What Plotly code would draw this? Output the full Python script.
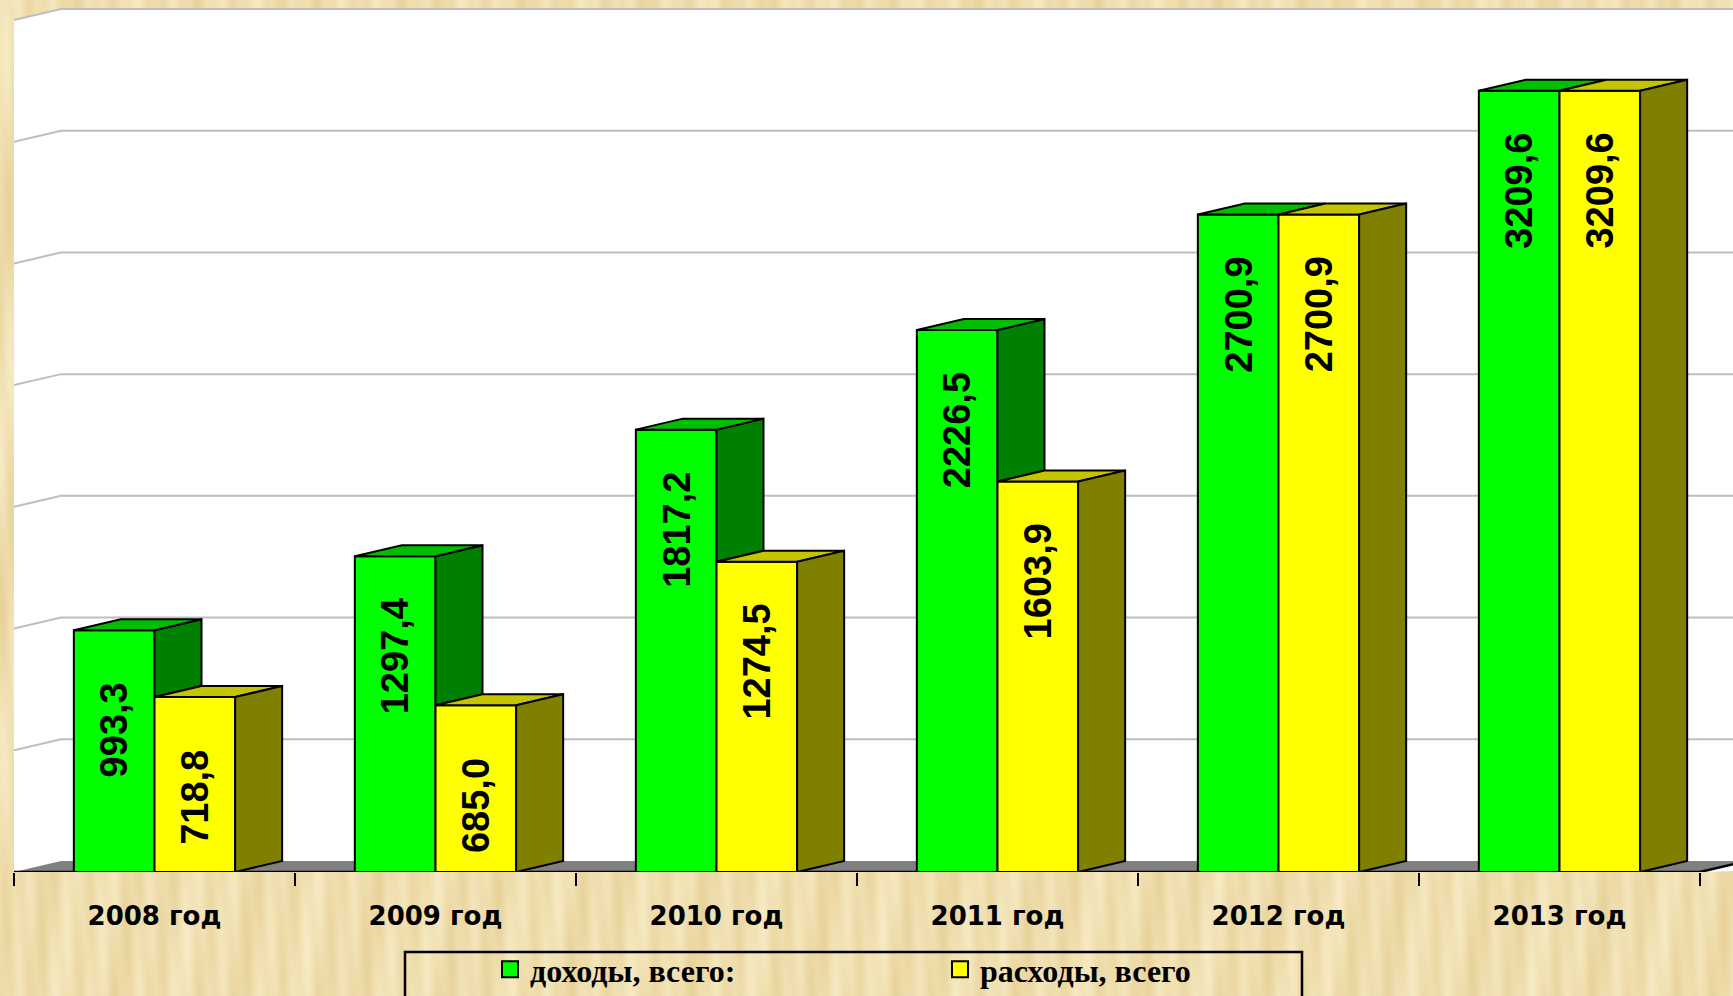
import math
import zlib
import struct
import base64
import plotly.graph_objects as go

# ---------------- data ----------------
categories = ["2008 год", "2009 год", "2010 год", "2011 год", "2012 год", "2013 год"]
income = [993.3, 1297.4, 1817.2, 2226.5, 2700.9, 3209.6]
expenses = [718.8, 685.0, 1274.5, 1603.9, 2700.9, 3209.6]
series_names = ["доходы, всего:", "расходы, всего"]
grid_values = [500, 1000, 1500, 2000, 2500, 3000, 3500]

# ---------------- geometry / style constants ----------------
FIG_W, FIG_H = 1733, 996
M_L, M_B = 14, 124
PX_PER_CAT = 281.0
PX_PER_VAL = 852.0 / 3500.0
DEPTH_PX_X, DEPTH_PX_Y = 47.0, 11.0
BAR_W = 0.287
LABEL_OFF_PX = 100.0

plot_w = FIG_W - M_L
plot_h = FIG_H - M_B
x_min = -0.5
x_max = x_min + plot_w / PX_PER_CAT
y_max = plot_h / PX_PER_VAL
DX = DEPTH_PX_X / PX_PER_CAT
DY = DEPTH_PX_Y / PX_PER_VAL
n = len(categories)
idx = list(range(n))
x_left, x_right = -0.5, n - 0.5

GREEN, GREEN_TOP, GREEN_SIDE = "#00FF00", "#00BE00", "#008000"
YELLOW, YELLOW_TOP, YELLOW_SIDE = "#FFFF00", "#C4C400", "#808000"


def fmt(v):
    return ("%.1f" % v).replace(".", ",")


# ---------------- background texture (paper) ----------------
def make_png(w, h, fn):
    raw = bytearray()
    for yy in range(h):
        raw.append(0)
        for xx in range(w):
            raw.extend(fn(xx, yy))

    def chunk(tag, data):
        c = struct.pack(">I", len(data)) + tag + data
        return c + struct.pack(">I", zlib.crc32(tag + data) & 0xFFFFFFFF)

    png = (b"\x89PNG\r\n\x1a\n"
           + chunk(b"IHDR", struct.pack(">IIBBBBB", w, h, 8, 2, 0, 0, 0))
           + chunk(b"IDAT", zlib.compress(bytes(raw), 9))
           + chunk(b"IEND", b""))
    return "data:image/png;base64," + base64.b64encode(png).decode()


LIGHT = (248, 236, 198)
DARK = (230, 207, 148)


def paper_px(xx, yy):
    X, Y = xx * 3.0, yy * 3.0
    t = (0.55 + 0.2 * math.sin(2 * math.pi * (X + 0.12 * Y) / 41.0)
         + 0.13 * math.sin(2 * math.pi * (X - 0.07 * Y) / 17.0 + 1.3)
         + 0.1 * math.sin(2 * math.pi * (X + 0.3 * Y) / 113.0 + 0.4))
    t = max(0.0, min(1.0, t))
    return bytes(int(DARK[k] + (LIGHT[k] - DARK[k]) * t) for k in range(3))


texture = make_png(578, 332, paper_px)

# ---------------- traces ----------------
fig = go.Figure()

fig.add_trace(go.Bar(x=idx, y=income, width=BAR_W, offset=-BAR_W, name=series_names[0],
                     marker=dict(color=GREEN, line=dict(color="black", width=2)),
                     showlegend=False, hoverinfo="skip"))
fig.add_trace(go.Bar(x=idx, y=expenses, width=BAR_W, offset=0.0, name=series_names[1],
                     marker=dict(color=YELLOW, line=dict(color="black", width=2)),
                     showlegend=False, hoverinfo="skip"))


def poly_trace(polys, fill):
    xs, ys = [], []
    for p in polys:
        for (px, py) in p:
            xs.append(px)
            ys.append(py)
        xs.append(p[0][0])
        ys.append(p[0][1])
        xs.append(None)
        ys.append(None)
    return go.Scatter(x=xs, y=ys, mode="lines", fill="toself", fillcolor=fill,
                      line=dict(color="black", width=2), hoverinfo="skip",
                      showlegend=False)


green_side, green_top, yellow_top, yellow_side = [], [], [], []
for i, (g, yv) in enumerate(zip(income, expenses)):
    if g > yv:
        green_side.append([(i, yv), (i + DX, yv + DY), (i + DX, g + DY), (i, g)])
    green_top.append([(i - BAR_W, g), (i, g), (i + DX, g + DY), (i - BAR_W + DX, g + DY)])
    yellow_top.append([(i, yv), (i + BAR_W, yv), (i + BAR_W + DX, yv + DY), (i + DX, yv + DY)])
    yellow_side.append([(i + BAR_W, 0), (i + BAR_W + DX, DY), (i + BAR_W + DX, yv + DY), (i + BAR_W, yv)])

fig.add_trace(poly_trace(green_side, GREEN_SIDE))
fig.add_trace(poly_trace(green_top, GREEN_TOP))
fig.add_trace(poly_trace(yellow_top, YELLOW_TOP))
fig.add_trace(poly_trace(yellow_side, YELLOW_SIDE))

# legend entries
for name, col in zip(series_names, [GREEN, YELLOW]):
    fig.add_trace(go.Scatter(x=[None], y=[None], mode="markers", name="<b>%s</b>" % name,
                             marker=dict(symbol="square", size=16, color=col,
                                         line=dict(color="black", width=2))))

# ---------------- shapes: walls, gridlines, floor ----------------
top = grid_values[-1]
shapes = []
wall = "M %f,%f L %f,%f L %f,%f L %f,%f L %f,%f L %f,%f Z" % (
    x_left, 0, x_left, top, x_left + DX, top + DY, x_right + DX + 1, top + DY,
    x_right + DX + 1, DY, x_right, 0)
shapes.append(dict(type="path", path=wall, xref="x", yref="y", fillcolor="white",
                   line=dict(width=0), layer="below"))
for v in grid_values:
    p = "M %f,%f L %f,%f L %f,%f" % (x_left, v, x_left + DX, v + DY, x_right + DX + 1, v + DY)
    shapes.append(dict(type="path", path=p, xref="x", yref="y",
                       line=dict(color="#BEBEBE", width=2), layer="below"))
floor = "M %f,%f L %f,%f L %f,%f L %f,%f Z" % (
    x_left, 0, x_right, 0, x_right + DX, DY, x_left + DX, DY)
shapes.append(dict(type="path", path=floor, xref="x", yref="y", fillcolor="#808080",
                   line=dict(width=0), layer="below"))
edge = "M %f,%f L %f,%f L %f,%f" % (x_left, 0, x_right, 0, x_right + DX, DY)
shapes.append(dict(type="path", path=edge, xref="x", yref="y",
                   line=dict(color="black", width=2.5), layer="below"))
# legend frame
shapes.append(dict(type="rect", xref="paper", yref="paper",
                   x0=(405 - M_L) / plot_w, x1=(1302 - M_L) / plot_w,
                   y0=(plot_h - 952) / plot_h, y1=(plot_h - 1010) / plot_h,
                   line=dict(color="black", width=2.5), fillcolor="rgba(0,0,0,0)"))

# ---------------- value labels ----------------
annotations = []
off = LABEL_OFF_PX / PX_PER_VAL
for vals, dxc in ((income, -BAR_W / 2), (expenses, BAR_W / 2)):
    for i, v in enumerate(vals):
        annotations.append(dict(x=i + dxc, y=v - off, xref="x", yref="y",
                                text="<b>%s</b>" % fmt(v), textangle=-90, showarrow=False,
                                xanchor="center", yanchor="middle",
                                font=dict(family="Liberation Sans, Arial", size=38, color="black")))

fig.update_layout(
    width=FIG_W, height=FIG_H,
    margin=dict(l=M_L, r=0, t=0, b=M_B, pad=0, autoexpand=False),
    paper_bgcolor="#EFDDA8",
    plot_bgcolor="rgba(0,0,0,0)",
    barmode="overlay",
    shapes=shapes,
    annotations=annotations,
    images=[dict(source=texture, xref="paper", yref="paper", x=-M_L / plot_w, y=1.0,
                 sizex=FIG_W / plot_w, sizey=FIG_H / plot_h, xanchor="left", yanchor="top",
                 sizing="stretch", layer="below")],
    showlegend=True,
    legend=dict(orientation="h", x=(490 - M_L) / plot_w, y=(plot_h - 942) / plot_h,
                xanchor="left", yanchor="top", bgcolor="rgba(0,0,0,0)", borderwidth=0,
                entrywidth=405, entrywidthmode="pixels",
                font=dict(family="Liberation Serif, Times New Roman", size=32, color="black")),
    xaxis=dict(range=[x_min, x_max], tickmode="array", tickvals=idx,
               ticktext=["<b>%s</b>" % c for c in categories],
               ticks="outside", ticklen=21, tickcolor="rgba(0,0,0,0)",
               tickfont=dict(family="DejaVu Sans", size=26, color="black"),
               showgrid=False, zeroline=False, showline=False, fixedrange=True,
               minor=dict(tickmode="array", tickvals=[i - 0.5 for i in range(n + 1)],
                          ticks="outside", ticklen=13, tickwidth=2, tickcolor="black",
                          showgrid=False)),
    yaxis=dict(range=[0, y_max], visible=False, fixedrange=True),
)

fig.write_html("out.html", config={"displayModeBar": False},
               post_script="document.body.style.margin='0';document.body.style.overflow='hidden';")
